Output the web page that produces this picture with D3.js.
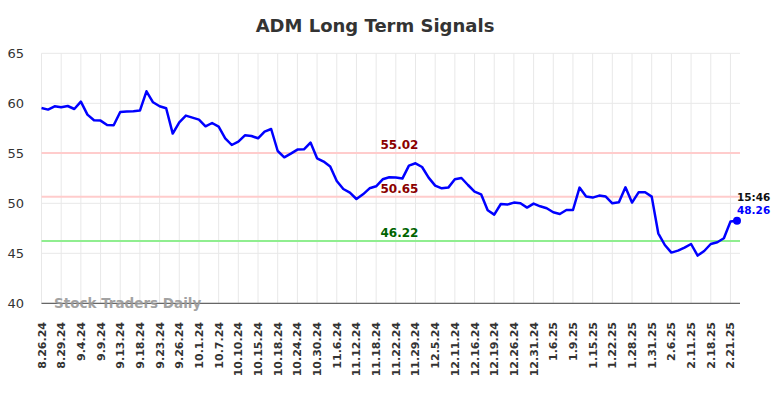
<!DOCTYPE html>
<html>
<head>
<meta charset="utf-8">
<script src="https://cdn.jsdelivr.net/npm/d3@7"></script>
<style>
  body { margin: 0; background: #fff; }
  text { font-family: "DejaVu Sans", sans-serif; }
</style>
</head>
<body>
<script>
const title = "ADM Long Term Signals";

const tickLabels = [
  "8.26.24", "8.29.24", "9.4.24", "9.9.24", "9.13.24", "9.18.24", "9.23.24",
  "9.26.24", "10.1.24", "10.7.24", "10.10.24", "10.15.24", "10.18.24",
  "10.24.24", "10.30.24", "11.6.24", "11.12.24", "11.18.24", "11.22.24",
  "11.29.24", "12.5.24", "12.11.24", "12.16.24", "12.19.24", "12.26.24",
  "12.31.24", "1.6.25", "1.9.25", "1.15.25", "1.22.25", "1.28.25", "1.31.25",
  "2.6.25", "2.11.25", "2.18.25", "2.21.25"
];

// closing prices, one per trading point (a tick label every 3rd point)
const prices = [
  59.53, 59.37, 59.7, 59.6, 59.73, 59.43, 60.17, 58.87, 58.3, 58.27,
  57.83, 57.8, 59.13, 59.17, 59.2, 59.27, 61.2, 60.1, 59.7, 59.5,
  56.97, 58.1, 58.77, 58.57, 58.37, 57.7, 58.03, 57.67, 56.5, 55.83,
  56.17, 56.8, 56.73, 56.5, 57.17, 57.43, 55.23, 54.6, 54.97, 55.37,
  55.4, 56.07, 54.5, 54.17, 53.67, 52.23, 51.43, 51.07, 50.43, 50.9,
  51.5, 51.7, 52.4, 52.6, 52.57, 52.47, 53.77, 54.0, 53.63, 52.57,
  51.77, 51.5, 51.57, 52.4, 52.53, 51.83, 51.17, 50.9, 49.3, 48.87,
  49.93, 49.87, 50.07, 50.0, 49.57, 49.97, 49.7, 49.5, 49.1, 48.93,
  49.33, 49.33, 51.57, 50.67, 50.57, 50.77, 50.67, 50.0, 50.1, 51.6,
  50.07, 51.1, 51.1, 50.67, 47.0, 45.83, 45.07, 45.27, 45.57, 45.93,
  44.77, 45.23, 45.93, 46.1, 46.5, 48.17, 48.26
];

const yTicks = [40, 45, 50, 55, 60, 65];

const resistance = [55.02, 50.65];
const support = [46.22];

const lastTime = "15:46";
const tickEvery = 3;

const width = 784;
const height = 398;

const svg = d3.select("body")
  .append("svg")
  .attr("width", width)
  .attr("height", height);

const x = d3.scaleLinear()
  .domain([0, prices.length - 1])
  .range([41.5, 737]);

const y = d3.scaleLinear()
  .domain([40, 65])
  .range([303.3, 53.3]);

const plotRight = 740;

// title
svg.append("text")
  .attr("x", 375)
  .attr("y", 32)
  .attr("text-anchor", "middle")
  .style("font-size", "18px")
  .style("font-weight", "bold")
  .attr("fill", "#333")
  .text(title);

// horizontal grid + y labels
svg.selectAll(".hgrid")
  .data(yTicks)
  .enter()
  .append("line")
  .attr("x1", x(0))
  .attr("x2", plotRight)
  .attr("y1", d => y(d))
  .attr("y2", d => y(d))
  .attr("stroke", "#e8e8e8")
  .attr("stroke-width", 1);

svg.selectAll(".ylab")
  .data(yTicks)
  .enter()
  .append("text")
  .attr("x", 24)
  .attr("y", d => y(d) + 4.5)
  .attr("text-anchor", "end")
  .style("font-size", "13px")
  .attr("fill", "#333")
  .text(d => d);

// vertical grid + x labels
const tickIdx = tickLabels.map((t, i) => i * tickEvery);

svg.selectAll(".vgrid")
  .data(tickIdx)
  .enter()
  .append("line")
  .attr("x1", d => x(d))
  .attr("x2", d => x(d))
  .attr("y1", y(65))
  .attr("y2", y(40))
  .attr("stroke", "#e8e8e8")
  .attr("stroke-width", 1);

svg.selectAll(".xlab")
  .data(tickLabels)
  .enter()
  .append("text")
  .attr("transform", (d, i) => `translate(${x(tickIdx[i]) + 4},322) rotate(-90)`)
  .attr("text-anchor", "end")
  .style("font-size", "11px")
  .style("font-weight", "bold")
  .attr("fill", "#333")
  .text(d => d);

// bottom axis line
svg.append("line")
  .attr("x1", x(0))
  .attr("x2", plotRight)
  .attr("y1", y(40))
  .attr("y2", y(40))
  .attr("stroke", "#666")
  .attr("stroke-width", 1.2);

// watermark
svg.append("text")
  .attr("x", 54)
  .attr("y", 308)
  .style("font-size", "13.5px")
  .style("font-weight", "bold")
  .attr("fill", "#999")
  .attr("opacity", 0.9)
  .text("Stock Traders Daily");

// signal lines
svg.selectAll(".res")
  .data(resistance)
  .enter()
  .append("line")
  .attr("x1", x(0))
  .attr("x2", plotRight)
  .attr("y1", d => y(d))
  .attr("y2", d => y(d))
  .attr("stroke", "#ffcccc")
  .attr("stroke-width", 2);

svg.selectAll(".sup")
  .data(support)
  .enter()
  .append("line")
  .attr("x1", x(0))
  .attr("x2", plotRight)
  .attr("y1", d => y(d))
  .attr("y2", d => y(d))
  .attr("stroke", "#90ee90")
  .attr("stroke-width", 2);

const labelX = 399.5;
svg.selectAll(".reslab")
  .data(resistance)
  .enter()
  .append("text")
  .attr("x", labelX)
  .attr("y", d => y(d) - 4)
  .attr("text-anchor", "middle")
  .style("font-size", "12px")
  .style("font-weight", "bold")
  .attr("fill", "#8b0000")
  .text(d => d.toFixed(2));

svg.selectAll(".suplab")
  .data(support)
  .enter()
  .append("text")
  .attr("x", labelX)
  .attr("y", d => y(d) - 4)
  .attr("text-anchor", "middle")
  .style("font-size", "12px")
  .style("font-weight", "bold")
  .attr("fill", "#006400")
  .text(d => d.toFixed(2));

// price line
const line = d3.line()
  .x((d, i) => x(i))
  .y(d => y(d));

svg.append("path")
  .datum(prices)
  .attr("fill", "none")
  .attr("stroke", "#0000ff")
  .attr("stroke-width", 2.5)
  .attr("stroke-linejoin", "round")
  .attr("d", line);

// last point
const lastI = prices.length - 1;
const lastV = prices[lastI];

svg.append("circle")
  .attr("cx", x(lastI))
  .attr("cy", y(lastV))
  .attr("r", 4)
  .attr("fill", "#0000ff");

svg.append("text")
  .attr("x", x(lastI))
  .attr("y", y(lastV) - 20)
  .style("font-size", "10.5px")
  .style("font-weight", "bold")
  .attr("fill", "#111")
  .text(lastTime);

svg.append("text")
  .attr("x", x(lastI))
  .attr("y", y(lastV) - 6.5)
  .style("font-size", "10.5px")
  .style("font-weight", "bold")
  .attr("fill", "#0000ff")
  .text(lastV.toFixed(2));
</script>
</body>
</html>
